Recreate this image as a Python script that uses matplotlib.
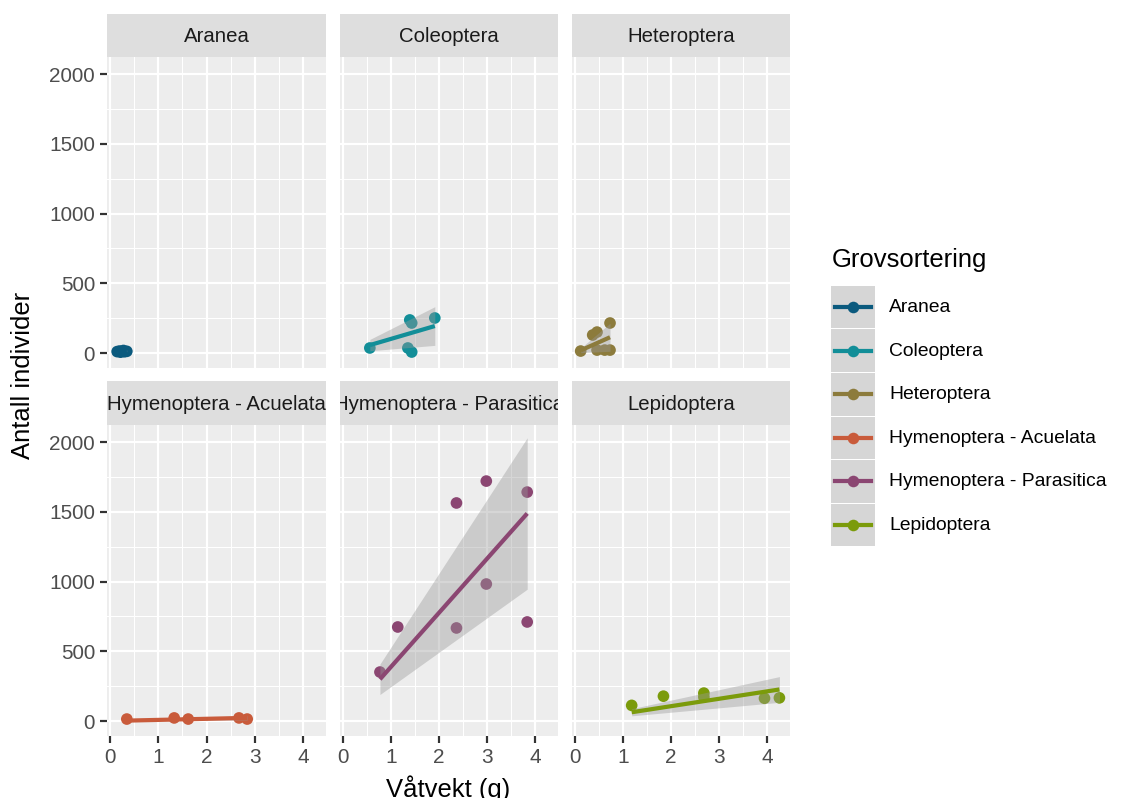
import numpy as np
import matplotlib.pyplot as plt
from matplotlib.lines import Line2D
from matplotlib.patches import Rectangle

plt.rcParams['font.family'] = ['Liberation Sans', 'DejaVu Sans']

groups = ["Aranea", "Coleoptera", "Heteroptera",
          "Hymenoptera - Acuelata", "Hymenoptera - Parasitica", "Lepidoptera"]
colors = ["#0b5a7e", "#128e98", "#8c7b3c", "#c95b3b", "#8b4672", "#7b9b0b"]

aranea_x = [0.15, 0.20, 0.22, 0.28, 0.30, 0.35]
aranea_y = [10, 14, 6, 18, 9, 12]
coleoptera_x = [0.56, 1.35, 1.39, 1.43, 1.43, 1.91]
coleoptera_y = [36, 36, 237, 215, 7, 251]
heteroptera_x = [0.12, 0.37, 0.46, 0.46, 0.62, 0.73, 0.73]
heteroptera_y = [14, 129, 150, 21, 21, 215, 21]
aculeata_x = [0.35, 1.33, 1.62, 2.67, 2.84]
aculeata_y = [14, 22, 14, 22, 14]
parasitica_x = [0.77, 1.14, 2.36, 2.36, 2.98, 2.98, 3.83, 3.83]
parasitica_y = [351, 674, 1563, 667, 1720, 982, 1641, 710]
lepidoptera_x = [1.18, 1.84, 2.68, 2.68, 3.94, 4.25]
lepidoptera_y = [112, 178, 200, 172, 163, 166]

data_x = [aranea_x, coleoptera_x, heteroptera_x, aculeata_x, parasitica_x, lepidoptera_x]
data_y = [aranea_y, coleoptera_y, heteroptera_y, aculeata_y, parasitica_y, lepidoptera_y]

# t quantiles (0.975) for the confidence band, by degrees of freedom
t975 = {1: 12.706, 2: 4.303, 3: 3.182, 4: 2.776, 5: 2.571,
        6: 2.447, 7: 2.365, 8: 2.306, 9: 2.262, 10: 2.228}

W, H = 1140, 798
fig = plt.figure(figsize=(W / 144, H / 144), dpi=144)

col_x = [(107, 326), (340, 558), (572, 790)]
row_y = [(14, 57, 368), (381, 425, 736)]

def fr(x0, y0, x1, y1):
    return [x0 / W, 1 - y1 / H, (x1 - x0) / W, (y1 - y0) / H]

def bare(a, face):
    a.set_facecolor(face)
    a.set_xticks([])
    a.set_yticks([])
    for sp in a.spines.values():
        sp.set_visible(False)

for i, g in enumerate(groups):
    r, c = divmod(i, 3)
    x0, x1 = col_x[c]
    s0, p0, p1 = row_y[r]
    ax = fig.add_axes(fr(x0, p0, x1, p1))
    ax.set_facecolor("#ededed")
    ax.set_xlim(-0.06, 4.47)
    ax.set_ylim(-107.5, 2122)
    ax.set_xticks([0, 1, 2, 3, 4])
    ax.set_xticks([0.5, 1.5, 2.5, 3.5], minor=True)
    ax.set_yticks([0, 500, 1000, 1500, 2000])
    ax.set_yticks([250, 750, 1250, 1750], minor=True)
    ax.grid(which="major", color="white", lw=1.1)
    ax.grid(which="minor", color="white", lw=0.55)
    ax.set_axisbelow(True)
    for sp in ax.spines.values():
        sp.set_visible(False)
    ax.tick_params(which="minor", length=0)
    ax.tick_params(which="major", length=3.5, width=1.1, color="#333333",
                   labelcolor="#4d4d4d", labelsize=10.4, pad=2.5)
    if r == 0:
        ax.tick_params(axis="x", which="major", length=0, labelbottom=False)
    if c > 0:
        ax.tick_params(axis="y", which="major", length=0, labelleft=False)

    x = np.array(data_x[i], dtype=float)
    y = np.array(data_y[i], dtype=float)
    ax.scatter(x, y, s=34, color=colors[i], edgecolor="none", zorder=3)

    # linear fit through the origin with 95% band
    sxx = np.sum(x * x)
    b = np.sum(x * y) / sxx
    n = len(x)
    s2 = np.sum((y - b * x) ** 2) / (n - 1)
    se = np.sqrt(s2 / sxx)
    xs = np.linspace(x.min(), x.max(), 80)
    fit = b * xs
    half = t975[n - 1] * se * xs
    ax.fill_between(xs, fit - half, fit + half, color="#999999", alpha=0.4,
                    lw=0, zorder=4)
    ax.plot(xs, fit, color=colors[i], lw=2.1, zorder=5, solid_capstyle="butt")

    sax = fig.add_axes(fr(x0, s0, x1, p0))
    bare(sax, "#dedede")
    sax.text(0.5, 0.47, g, ha="center", va="center", fontsize=10.2,
             color="#1a1a1a", transform=sax.transAxes, clip_on=True)

fig.text(448.5 / W, 1 - 789 / H, "Våtvekt (g)", ha="center", va="center",
         fontsize=12.8, color="black")
fig.text(23 / W, 1 - 375 / H, "Antall individer", ha="center", va="center",
         rotation=90, fontsize=12.8, color="black")

# legend
fig.text(832 / W, 1 - 260 / H, "Grovsortering", ha="left", va="center",
         fontsize=12.8, color="black")
key_top, key_h = 286, 43.5
for i, g in enumerate(groups):
    ky0 = key_top + i * key_h
    kax = fig.add_axes(fr(831, ky0, 875, ky0 + key_h - 1))
    kax.set_xlim(0, 1)
    kax.set_ylim(0, 1)
    bare(kax, "#ffffff")
    kax.plot([0.5], [0.5], "o", ms=5.8, color=colors[i], mec="none")
    kax.add_patch(Rectangle((0, 0), 1, 1, color="#999999", alpha=0.4, lw=0))
    kax.add_line(Line2D([0.1, 0.9], [0.5, 0.5], color=colors[i], lw=2.1))
    fig.text(889 / W, 1 - (ky0 + key_h / 2) / H, g, ha="left", va="center",
             fontsize=9.6, color="black")

fig.savefig("out.png", dpi=144)
